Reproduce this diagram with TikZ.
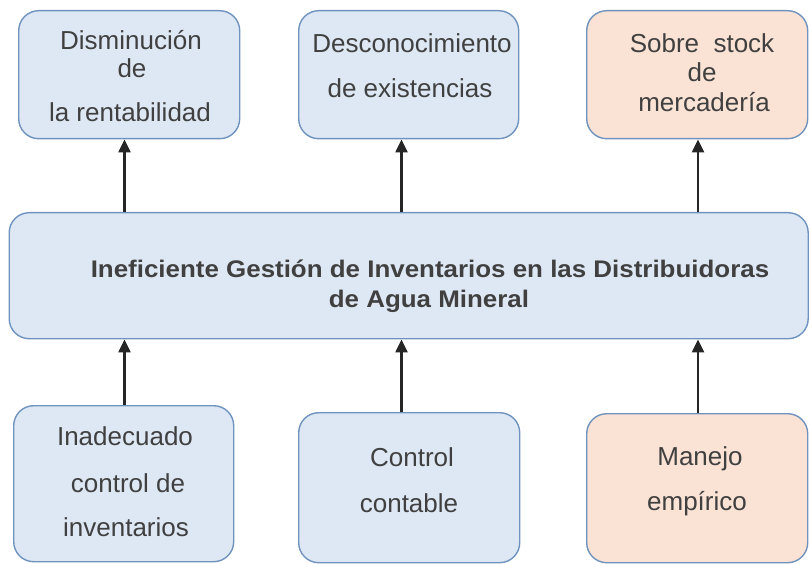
\documentclass[tikz,border=0pt]{standalone}
\usepackage{fontspec}
\setmainfont{Liberation Sans}
\usetikzlibrary{arrows.meta}
\definecolor{bluefill}{HTML}{DEE8F4}
\definecolor{blueedge}{HTML}{6F93BE}
\definecolor{orangefill}{HTML}{FAE3D4}
\definecolor{txt}{HTML}{404040}
\tikzset{
  box/.style={draw=blueedge, line width=1.4pt, rounded corners=20pt, fill=bluefill},
  obox/.style={box, fill=orangefill},
  lbl/.style={anchor=base, inner sep=0pt, text=txt, font=\fontsize{26}{30}\selectfont},
  blbl/.style={anchor=base, inner sep=0pt, text=txt, font=\fontsize{24}{28}\selectfont\bfseries},
  arr/.style={draw=black!85, line width=2.2pt, -{Triangle[length=13pt,width=12pt]}}
}
\begin{document}
\begin{tikzpicture}[x=1pt,y=-1pt]
\useasboundingbox (0,0) rectangle (809,564);
% boxes
\node[box, minimum width=221pt, minimum height=128pt, anchor=north west] (top1) at (18,10) {};
\node[box, minimum width=220pt, minimum height=128pt, anchor=north west] (top2) at (298,10) {};
\node[obox, minimum width=221pt, minimum height=128pt, anchor=north west] (top3) at (586,10) {};
\node[box, minimum width=799pt, minimum height=126pt, anchor=north west] (mid) at (8.5,212) {};
\node[box, minimum width=220pt, minimum height=156pt, anchor=north west] (bot1) at (13,405) {};
\node[box, minimum width=221pt, minimum height=150pt, anchor=north west] (bot2) at (298,412) {};
\node[obox, minimum width=221pt, minimum height=149pt, anchor=north west] (bot3) at (586,413) {};
% texts
\node[lbl] (t1a) at (131,50) {Disminución};
\node[lbl] (t1b) at (132,78) {de};
\node[lbl] (t1c) at (130,122) {la rentabilidad};
\node[lbl] (t2a) at (412,53) {Desconocimiento};
\node[lbl] (t2b) at (410,98) {de existencias};
\node[lbl] (t3a) at (702,53) {Sobre\ \ stock};
\node[lbl] (t3b) at (702,82) {de};
\node[lbl] (t3c) at (704,112) {mercadería};
\node[blbl] (m1) at (430,277) {\scalebox{1.08}[1]{Ineficiente Gestión\ de Inventarios\ en las Distribuidoras}};
\node[blbl] (m2) at (429,307) {\scalebox{1.08}[1]{de Agua Mineral}};
\node[lbl] (b1a) at (125,445) {Inadecuado};
\node[lbl] (b1b) at (128,492) {control de};
\node[lbl] (b1c) at (126,536) {inventarios};
\node[lbl] (b2a) at (412,466) {Control};
\node[lbl] (b2b) at (409,512) {contable};
\node[lbl] (b3a) at (700,465) {Manejo};
\node[lbl] (b3b) at (697,510) {empírico};
% arrow columns
\coordinate (c1) at (124.5,0);
\coordinate (c2) at (401.5,0);
\coordinate (c3) at (698,0);
\draw[arr] (mid.north -| c1) -- (top1.south -| c1);
\draw[arr] (mid.north -| c2) -- (top2.south -| c2);
\draw[arr] (mid.north -| c3) -- (top3.south -| c3);
\draw[arr] (bot1.north -| c1) -- (mid.south -| c1);
\draw[arr] (bot2.north -| c2) -- (mid.south -| c2);
\draw[arr] (bot3.north -| c3) -- (mid.south -| c3);
\end{tikzpicture}
\end{document}
